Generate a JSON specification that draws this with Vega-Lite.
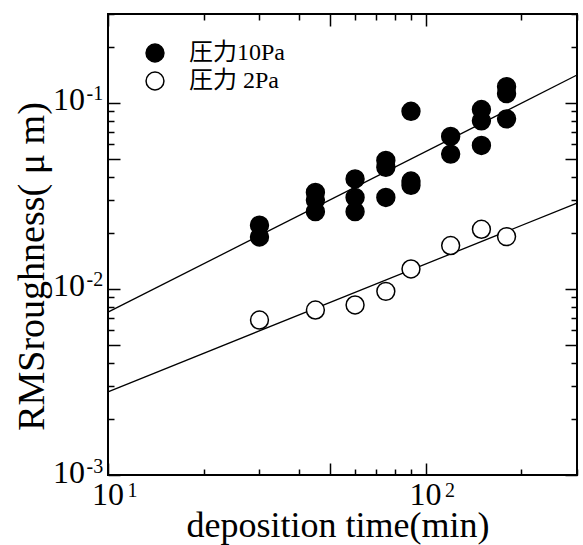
{
  "$schema": "https://vega.github.io/schema/vega-lite/v6.json",
  "width": 469,
  "height": 461,
  "autosize": "none",
  "padding": {"left": 108, "top": 14, "right": 6, "bottom": 70},
  "background": "white",
  "config": {
    "view": {"stroke": "black", "strokeWidth": 2},
    "font": "Liberation Serif",
    "text": {"font": "Liberation Serif"},
    "axis": {
      "domain": false,
      "grid": false,
      "labels": false,
      "tickColor": "black",
      "tickWidth": 1.5,
      "titleFont": "Liberation Serif",
      "titleFontWeight": "normal",
      "titleColor": "black",
      "titleFontSize": 36
    }
  },
  "datasets": {
    "pts": [
      {"t": 30, "r": 0.022, "s": "圧力10Pa"},
      {"t": 30, "r": 0.019, "s": "圧力10Pa"},
      {"t": 45, "r": 0.033, "s": "圧力10Pa"},
      {"t": 45, "r": 0.030, "s": "圧力10Pa"},
      {"t": 45, "r": 0.026, "s": "圧力10Pa"},
      {"t": 60, "r": 0.039, "s": "圧力10Pa"},
      {"t": 60, "r": 0.031, "s": "圧力10Pa"},
      {"t": 60, "r": 0.026, "s": "圧力10Pa"},
      {"t": 75, "r": 0.049, "s": "圧力10Pa"},
      {"t": 75, "r": 0.045, "s": "圧力10Pa"},
      {"t": 75, "r": 0.031, "s": "圧力10Pa"},
      {"t": 90, "r": 0.090, "s": "圧力10Pa"},
      {"t": 90, "r": 0.038, "s": "圧力10Pa"},
      {"t": 90, "r": 0.036, "s": "圧力10Pa"},
      {"t": 120, "r": 0.066, "s": "圧力10Pa"},
      {"t": 120, "r": 0.053, "s": "圧力10Pa"},
      {"t": 150, "r": 0.092, "s": "圧力10Pa"},
      {"t": 150, "r": 0.080, "s": "圧力10Pa"},
      {"t": 150, "r": 0.059, "s": "圧力10Pa"},
      {"t": 180, "r": 0.122, "s": "圧力10Pa"},
      {"t": 180, "r": 0.112, "s": "圧力10Pa"},
      {"t": 180, "r": 0.082, "s": "圧力10Pa"},
      {"t": 30, "r": 0.0068, "s": "圧力 2Pa"},
      {"t": 45, "r": 0.0077, "s": "圧力 2Pa"},
      {"t": 60, "r": 0.0082, "s": "圧力 2Pa"},
      {"t": 75, "r": 0.0097, "s": "圧力 2Pa"},
      {"t": 90, "r": 0.0128, "s": "圧力 2Pa"},
      {"t": 120, "r": 0.0171, "s": "圧力 2Pa"},
      {"t": 150, "r": 0.0209, "s": "圧力 2Pa"},
      {"t": 180, "r": 0.0191, "s": "圧力 2Pa"}
    ],
    "fits": [
      {"t": 10, "r": 0.0075, "s": "圧力10Pa"},
      {"t": 300, "r": 0.141, "s": "圧力10Pa"},
      {"t": 10, "r": 0.0028, "s": "圧力 2Pa"},
      {"t": 300, "r": 0.0289, "s": "圧力 2Pa"}
    ],
    "xlab": [
      {"t": 10, "e": "1"},
      {"t": 100, "e": "2"}
    ],
    "ylab": [
      {"r": 0.1, "e": "-1"},
      {"r": 0.01, "e": "-2"},
      {"r": 0.001, "e": "-3"}
    ]
  },
  "resolve": {"axis": {"x": "independent", "y": "independent"}},
  "layer": [
    {
      "data": {"name": "fits"},
      "mark": {"type": "line", "color": "black", "strokeWidth": 1.3},
      "encoding": {
        "x": {
          "field": "t", "type": "quantitative",
          "scale": {"type": "log", "domain": [10, 300], "nice": false},
          "axis": {
            "orient": "top", "title": null,
            "values": [10, 20, 30, 40, 50, 60, 70, 80, 90, 100, 200, 300],
            "tickSize": {"condition": {"test": "datum.value == 10 || datum.value == 50 || datum.value == 100", "value": -12}, "value": -6}
          }
        },
        "y": {
          "field": "r", "type": "quantitative",
          "scale": {"type": "log", "domain": [0.001, 0.3], "nice": false},
          "axis": {
            "orient": "right", "title": null,
            "values": [0.001, 0.002, 0.003, 0.004, 0.005, 0.006, 0.007, 0.008, 0.009, 0.01, 0.02, 0.03, 0.04, 0.05, 0.06, 0.07, 0.08, 0.09, 0.1, 0.2, 0.3],
            "tickSize": {"condition": {"test": "datum.value == 0.001 || datum.value == 0.005 || datum.value == 0.01 || datum.value == 0.05 || datum.value == 0.1", "value": -12}, "value": -6}
          }
        },
        "detail": {"field": "s"}
      }
    },
    {
      "data": {"name": "pts"},
      "mark": {"type": "point", "shape": "circle", "filled": true, "size": 320, "stroke": "black", "strokeWidth": 1.5, "opacity": 1},
      "encoding": {
        "x": {
          "field": "t", "type": "quantitative",
          "scale": {"type": "log", "domain": [10, 300], "nice": false},
          "axis": {
            "orient": "bottom",
            "title": "deposition time(min)",
            "titleX": 229.5, "titleY": 61.7, "titleBaseline": "alphabetic", "titleAlign": "center",
            "values": [10, 20, 30, 40, 50, 60, 70, 80, 90, 100, 200, 300],
            "tickSize": {"condition": {"test": "datum.value == 10 || datum.value == 50 || datum.value == 100", "value": -12}, "value": -6}
          }
        },
        "y": {
          "field": "r", "type": "quantitative",
          "scale": {"type": "log", "domain": [0.001, 0.3], "nice": false},
          "axis": {
            "orient": "left",
            "title": "RMSroughness( μ m)",
            "titleFontSize": 38,
            "titleX": -65, "titleY": 252, "titleAngle": -90, "titleBaseline": "alphabetic", "titleAlign": "center",
            "values": [0.001, 0.002, 0.003, 0.004, 0.005, 0.006, 0.007, 0.008, 0.009, 0.01, 0.02, 0.03, 0.04, 0.05, 0.06, 0.07, 0.08, 0.09, 0.1, 0.2, 0.3],
            "tickSize": {"condition": {"test": "datum.value == 0.001 || datum.value == 0.005 || datum.value == 0.01 || datum.value == 0.05 || datum.value == 0.1", "value": -12}, "value": -6}
          }
        },
        "fill": {
          "field": "s", "type": "nominal",
          "scale": {"domain": ["圧力10Pa", "圧力 2Pa"], "range": ["black", "white"]},
          "legend": {
            "title": null,
            "orient": "none",
            "legendX": 35,
            "legendY": 27,
            "padding": 0,
            "symbolType": "circle",
            "symbolSize": 320,
            "symbolStrokeColor": "black",
            "symbolStrokeWidth": 1.5,
            "symbolOffset": 0,
            "labelOffset": 22,
            "labelFont": "'Liberation Serif', 'Noto Sans CJK JP', serif",
            "labelFontSize": 24,
            "labelColor": "black",
            "rowPadding": 4
          }
        }
      }
    },
    {
      "data": {"name": "xlab"},
      "mark": {"type": "text", "fontSize": 32, "align": "center", "baseline": "alphabetic", "dy": 30, "color": "black"},
      "encoding": {
        "x": {"field": "t", "type": "quantitative", "scale": {"type": "log", "domain": [10, 300], "nice": false}, "axis": null},
        "y": {"datum": 0.001, "type": "quantitative", "scale": {"type": "log", "domain": [0.001, 0.3], "nice": false}, "axis": null},
        "text": {"value": "10"}
      }
    },
    {
      "data": {"name": "xlab"},
      "mark": {"type": "text", "fontSize": 20, "align": "left", "baseline": "alphabetic", "dx": 19.5, "dy": 21.7, "color": "black"},
      "encoding": {
        "x": {"field": "t", "type": "quantitative", "scale": {"type": "log", "domain": [10, 300], "nice": false}, "axis": null},
        "y": {"datum": 0.001, "type": "quantitative", "scale": {"type": "log", "domain": [0.001, 0.3], "nice": false}, "axis": null},
        "text": {"field": "e"}
      }
    },
    {
      "data": {"name": "ylab"},
      "mark": {"type": "text", "fontSize": 32, "align": "right", "baseline": "alphabetic", "dx": -23, "dy": 7.5, "color": "black"},
      "encoding": {
        "x": {"datum": 10, "type": "quantitative", "scale": {"type": "log", "domain": [10, 300], "nice": false}, "axis": null},
        "y": {"field": "r", "type": "quantitative", "scale": {"type": "log", "domain": [0.001, 0.3], "nice": false}, "axis": null},
        "text": {"value": "10"}
      }
    },
    {
      "data": {"name": "ylab"},
      "mark": {"type": "text", "fontSize": 20, "align": "left", "baseline": "alphabetic", "dx": -21.5, "dy": -2.5, "color": "black"},
      "encoding": {
        "x": {"datum": 10, "type": "quantitative", "scale": {"type": "log", "domain": [10, 300], "nice": false}, "axis": null},
        "y": {"field": "r", "type": "quantitative", "scale": {"type": "log", "domain": [0.001, 0.3], "nice": false}, "axis": null},
        "text": {"field": "e"}
      }
    }
  ]
}
